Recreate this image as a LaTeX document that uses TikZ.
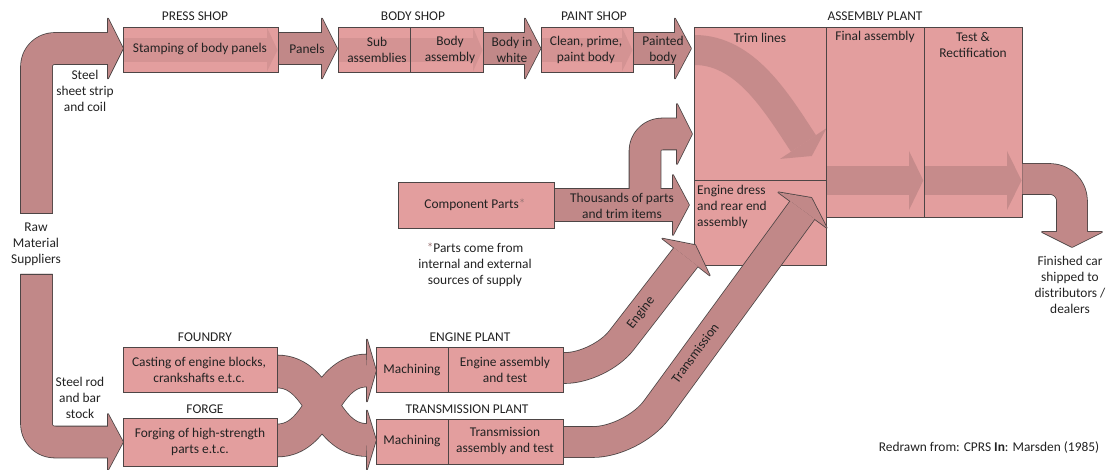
\documentclass[tikz,border=0pt]{standalone}
\usepackage{fontspec}
\setmainfont{Carlito}
\usetikzlibrary{calc}
\definecolor{boxfill}{HTML}{E39E9E}
\definecolor{arrfill}{HTML}{C18888}
\definecolor{inband}{HTML}{D49393}
\definecolor{asmband}{HTML}{C68B8B}
\definecolor{edge}{HTML}{4D4545}
\definecolor{txt}{HTML}{222222}
\definecolor{ast}{HTML}{9C7676}
\begin{document}
\begin{tikzpicture}[x=1pt,y=-1pt,
  bx/.style={draw=edge, line width=0.8pt, fill=boxfill, inner sep=0pt, outer sep=0pt},
  bxo/.style={draw=edge, line width=0.8pt},
  lbl/.style={text=txt, font=\fontsize{13.4}{16}\selectfont, align=center, inner sep=0pt},
  bdr/.style={draw=edge, line cap=butt, line join=round},
  fil/.style={draw=arrfill, line cap=butt, line join=round},
  hdbdr/.style={fill=edge, draw=edge, line width=1.6pt, line join=round},
  hdfil/.style={fill=arrfill},
  endline/.style={draw=edge, line width=0.8pt},
  inb/.style={draw=inband, line cap=butt},
  inh/.style={fill=inband},
  asb/.style={draw=asmband, line cap=butt},
  ash/.style={fill=asmband},
]
\useasboundingbox (0,0) rectangle (1106,470);

% ---------- assembly plant (drawn first, arrows over it) ----------
\node[bx, minimum width=132pt, minimum height=153pt] (trim) at (760,103.5) {};
\node[bx, minimum width=132pt, minimum height=85pt] (engdress) at (760,222.5) {};
\node[bx, minimum width=98pt, minimum height=190pt] (final) at (875,122) {};
\node[bx, minimum width=98pt, minimum height=190pt] (test) at (973,122) {};
% internal flow arrows
\coordinate (trS) at (694.5,50);
\coordinate (trE) at (803.5,143.5);
\draw[asb, line width=30pt] (trS) .. controls (745,50) and (776,101.5) .. (trE);
\path[ash] (780.1,158.9) -- (811.8,156) -- (826.6,128.1) -- cycle;
\coordinate (faS) at (826.5,180.5);
\coordinate (faE) at (909,180.5);
\draw[asb, line width=29pt] (faS) -- (faE);
\path[ash] (909,151) -- (923.3,180.5) -- (909,210) -- cycle;
\coordinate (teS) at (924.5,180.5);
\coordinate (teE) at (1007,180.5);
\draw[asb, line width=29pt] (teS) -- (teE);
\path[ash] (1007,151) -- (1021.5,180.5) -- (1007,210) -- cycle;
\draw[bxo] (trim.north west) rectangle (trim.south east);
\draw[bxo] (engdress.north west) rectangle (engdress.south east);
\draw[bxo] (final.north west) rectangle (final.south east);
\draw[bxo] (test.north west) rectangle (test.south east);

% ---------- arrow coordinates ----------
\coordinate (tlS) at (36.5,213);   \coordinate (tlC) at (36.5,48.5);  \coordinate (tlE) at (108,48.5);
\coordinate (blS) at (36.5,274);   \coordinate (blC) at (36.5,442);   \coordinate (blE) at (108,442);
\coordinate (paS) at (278,48.5);   \coordinate (paE) at (322,48.5);
\coordinate (bwS) at (483,48.5);   \coordinate (bwE) at (525,48.5);
\coordinate (pbS) at (633,48.5);   \coordinate (pbE) at (675,48.5);
\coordinate (thS) at (554,205);    \coordinate (thE) at (673,205);
\coordinate (brS) at (645,205);    \coordinate (brC) at (645,134);    \coordinate (brE) at (677,134);
\coordinate (fdS) at (277,371.5);  \coordinate (fdE) at (367,440);
\coordinate (fgS) at (277,440.5);  \coordinate (fgE) at (367,370.5);
\coordinate (enS) at (563,368);    \coordinate (enC) at (600,368);    \coordinate (enE) at (686,257);
\coordinate (tmS) at (563,442);    \coordinate (tmC) at (633,442);    \coordinate (tmE) at (802.5,210);
\coordinate (fcS) at (1022.4,179); \coordinate (fcC) at (1072,179);   \coordinate (fcE) at (1072,232);

% ---------- arrows: border layer ----------
\draw[bdr, line width=32.6pt, rounded corners=18pt] (tlS) -- (tlC) -- (tlE);
\path[hdbdr] (108,18.5) -- (123,48.5) -- (108,78.5) -- cycle;
\draw[bdr, line width=32.6pt, rounded corners=18pt] (blS) -- (blC) -- (blE);
\path[hdbdr] (108,414) -- (123,442) -- (108,470) -- cycle;
\draw[bdr, line width=32.6pt] (paS) -- (paE);
\path[hdbdr] (322,18.5) -- (337,48.5) -- (322,78.5) -- cycle;
\draw[bdr, line width=32.6pt] (bwS) -- (bwE);
\path[hdbdr] (525,18.5) -- (540.5,48.5) -- (525,78.5) -- cycle;
\draw[bdr, line width=32.6pt] (pbS) -- (pbE);
\path[hdbdr] (675,18.5) -- (691,48.5) -- (675,78.5) -- cycle;
\draw[bdr, line width=33.6pt] (thS) -- (thE);
\path[hdbdr] (673,175) -- (689,205) -- (673,235) -- cycle;
\draw[bdr, line width=32.6pt, rounded corners=17pt] (brS) -- (brC) -- (brE);
\path[hdbdr] (677,104) -- (692,134) -- (677,164) -- cycle;
\draw[bdr, line width=33.6pt] (fdS) .. controls (322,371.5) and (322,440) .. (fdE);
\draw[bdr, line width=33.6pt] (fgS) .. controls (322,440.5) and (322,370.5) .. (fgE);
\path[hdbdr] (367,339.5) -- (376,370.5) -- (367,401.5) -- cycle;
\path[hdbdr] (367,410.5) -- (376,440) -- (367,469.5) -- cycle;
\draw[bdr, line width=31.6pt, rounded corners=35pt] (enS) -- (enC) -- (enE);
\path[hdbdr] (662.3,238.6) -- (695.2,245.1) -- (709.7,275.4) -- cycle;
\draw[bdr, line width=31.6pt, rounded corners=40pt] (tmS) -- (tmC) -- (tmE);
\path[hdbdr] (778.3,192.3) -- (811.4,197.9) -- (826.7,227.7) -- cycle;
\draw[bdr, line width=31.6pt, rounded corners=22pt] (fcS) -- (fcC) -- (fcE);
\path[hdbdr] (1042,232) -- (1072,247) -- (1102,232) -- cycle;

% ---------- arrows: fill layer ----------
\draw[fil, line width=31pt, rounded corners=18pt] (tlS) -- (tlC) -- (tlE);
\path[hdfil] (108,18.5) -- (123,48.5) -- (108,78.5) -- cycle;
\draw[fil, line width=31pt, rounded corners=18pt] (blS) -- (blC) -- (blE);
\path[hdfil] (108,414) -- (123,442) -- (108,470) -- cycle;
\draw[fil, line width=31pt] (paS) -- (paE);
\path[hdfil] (322,18.5) -- (337,48.5) -- (322,78.5) -- cycle;
\draw[fil, line width=31pt] (bwS) -- (bwE);
\path[hdfil] (525,18.5) -- (540.5,48.5) -- (525,78.5) -- cycle;
\draw[fil, line width=31pt] (pbS) -- (pbE);
\path[hdfil] (675,18.5) -- (691,48.5) -- (675,78.5) -- cycle;
\draw[fil, line width=32pt] (thS) -- (thE);
\path[hdfil] (673,175) -- (689,205) -- (673,235) -- cycle;
\draw[fil, line width=31pt, rounded corners=17pt] (brS) -- (brC) -- (brE);
\path[hdfil] (677,104) -- (692,134) -- (677,164) -- cycle;
\draw[fil, line width=32pt] (fdS) .. controls (322,371.5) and (322,440) .. (fdE);
\draw[fil, line width=32pt] (fgS) .. controls (322,440.5) and (322,370.5) .. (fgE);
\path[hdfil] (367,339.5) -- (376,370.5) -- (367,401.5) -- cycle;
\path[hdfil] (367,410.5) -- (376,440) -- (367,469.5) -- cycle;
\draw[fil, line width=30pt, rounded corners=35pt] (enS) -- (enC) -- (enE);
\path[hdfil] (662.3,238.6) -- (695.2,245.1) -- (709.7,275.4) -- cycle;
\draw[fil, line width=30pt, rounded corners=40pt] (tmS) -- (tmC) -- (tmE);
\path[hdfil] (778.3,192.3) -- (811.4,197.9) -- (826.7,227.7) -- cycle;
\draw[fil, line width=30pt, rounded corners=22pt] (fcS) -- (fcC) -- (fcE);
\path[hdfil] (1042,232) -- (1072,247) -- (1102,232) -- cycle;
% flat ends of the supply arrows
\draw[endline] ($(tlS)+(-16.3,0)$) -- ($(tlS)+(16.3,0)$);
\draw[endline] ($(blS)+(-16.3,0)$) -- ($(blS)+(16.3,0)$);

% ---------- other boxes ----------
\node[bx, minimum width=155pt, minimum height=45pt] (press) at (200.5,49.5) {};
\node[bx, minimum width=72pt, minimum height=45pt] (sub) at (374,49.5) {};
\node[bx, minimum width=73pt, minimum height=45pt] (bodyasm) at (446.5,49.5) {};
\node[bx, minimum width=92pt, minimum height=45pt] (paint) at (587,49.5) {};
\node[bx, minimum width=156pt, minimum height=46pt] (comp) at (476,205) {};
\node[bx, minimum width=154pt, minimum height=45pt] (foundry) at (200,369.5) {};
\node[bx, minimum width=154pt, minimum height=48pt] (forge) at (200,442) {};
\node[bx, minimum width=72pt, minimum height=45pt] (mach1) at (412,369.5) {};
\node[bx, minimum width=115pt, minimum height=45pt] (engasm) at (505.5,369.5) {};
\node[bx, minimum width=72pt, minimum height=45pt] (mach2) at (412,441.5) {};
\node[bx, minimum width=115pt, minimum height=45pt] (trasm) at (505.5,441.5) {};
% internal bands of the shops
\draw[inb, line width=24pt] (123.6,50) -- (267,50);
\path[inh] (267,27.6) -- (277.5,50) -- (267,71.4) -- cycle;
\draw[inb, line width=24pt] (338.6,50) -- (473,50);
\path[inh] (473,27.6) -- (482.5,50) -- (473,71.4) -- cycle;
\draw[inb, line width=24pt] (541.6,50) -- (622,50);
\path[inh] (622,27.6) -- (632.5,50) -- (622,71.4) -- cycle;
\draw[bxo] (sub.north east) -- (sub.south east);

% ---------- texts ----------
\node[lbl] (hPress) at (195,16) {PRESS SHOP};
\node[lbl] (hBody) at (413,16) {BODY SHOP};
\node[lbl] (hPaint) at (594,16) {PAINT SHOP};
\node[lbl] (hAsm) at (875,16) {ASSEMBLY PLANT};
\node[lbl] (hFoundry) at (205,337) {FOUNDRY};
\node[lbl] (hForge) at (205,409) {FORGE};
\node[lbl] (hEngine) at (470,337) {ENGINE PLANT};
\node[lbl] (hTrans) at (467,409) {TRANSMISSION PLANT};

\node[lbl] (tPress) at (200,49) {Stamping of body panels};
\node[lbl] (tPanels) at (307,49) {Panels};
\node[lbl] (tSub) at (377,49.5) {Sub\\assemblies};
\node[lbl] (tBodyasm) at (450,50) {Body\\assembly};
\node[lbl] (tBiw) at (512,49.5) {Body in\\white};
\node[lbl] (tPaint) at (586,49.5) {Clean, prime,\\paint body};
\node[lbl] (tPainted) at (663,49.5) {Painted\\body};
\node[lbl] (tTrim) at (760,38) {Trim lines};
\node[lbl] (tFinal) at (875,37) {Final assembly};
\node[lbl] (tTest) at (973,45) {Test \&\\Rectification};
\node[lbl, align=left, anchor=west] (tDress) at (697,207) {Engine dress\\and rear end\\assembly};
\node[lbl] (tSheet) at (85,91) {Steel\\sheet strip\\and coil};
\node[lbl] (tRaw) at (36,244) {Raw\\Material\\Suppliers};
\node[lbl] (tRod) at (80,398) {Steel rod\\and bar\\stock};
\node[lbl] (tComp) at (475,205) {Component Parts\textcolor{ast}{*}};
\node[lbl] (tThou) at (622,206) {Thousands of parts\\and trim items};
\node[lbl] (tNote) at (475,265) {\textcolor{ast}{*}Parts come from\\internal and external\\sources of supply};
\node[lbl] (tCast) at (199,369.5) {Casting of engine blocks,\\crankshafts e.t.c.};
\node[lbl] (tForg) at (200,442) {Forging of high-strength\\parts e.t.c.};
\node[lbl] (tMach1) at (412,370) {Machining};
\node[lbl] (tEngasm) at (505,369.5) {Engine assembly\\and test};
\node[lbl] (tMach2) at (412,441) {Machining};
\node[lbl] (tTrasm) at (505,440.5) {Transmission\\assembly and test};
\node[lbl, rotate=52.2] (tEngine) at (641,313) {Engine};
\node[lbl, rotate=53.8] (tTransm) at (695,353) {Transmission};
\node[lbl] (tFinished) at (1070,285) {Finished car\\shipped to\\distributors /\\dealers};
\node[lbl] (tCredit) at (989,448) {Redrawn from: CPRS \textbf{In}: Marsden (1985)};
\end{tikzpicture}
\end{document}
